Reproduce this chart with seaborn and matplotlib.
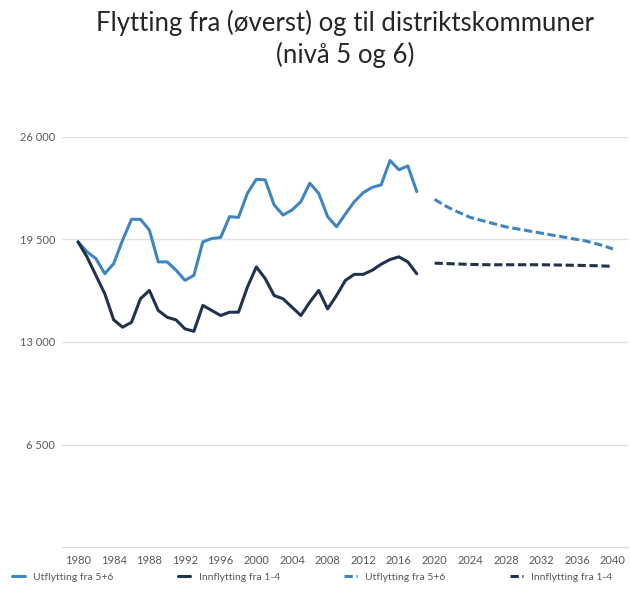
import matplotlib
matplotlib.use("Agg")
import matplotlib.pyplot as plt
import seaborn as sns
from matplotlib.ticker import FuncFormatter

# historical data, 1980-2018
years = list(range(1980, 2019))
utflytting = [19350, 18720, 18290, 17330, 17970, 19460, 20780, 20780, 20100, 18080,
              18080, 17550, 16910, 17230, 19350, 19560, 19630, 20950, 20900, 22430,
              23320, 23280, 21690, 21050, 21370, 21900, 23070, 22430, 20950, 20310,
              21120, 21900, 22470, 22810, 22960, 24510, 23920, 24170, 22540]
innflytting = [19350, 18400, 17230, 16060, 14400, 13940, 14250, 15740, 16270, 15000,
               14570, 14400, 13830, 13680, 15320, 15000, 14680, 14890, 14890, 16480,
               17760, 17020, 15950, 15740, 15210, 14680, 15530, 16270, 15100, 15950,
               16910, 17290, 17290, 17550, 17930, 18230, 18400, 18080, 17330]

# projections, 2020-2040
proj_years = list(range(2020, 2041))
utflytting_proj = [22050, 21700, 21400, 21150, 20900, 20750, 20600, 20450, 20300, 20200,
                   20100, 20000, 19900, 19800, 19700, 19600, 19500, 19400, 19250, 19100, 18900]
innflytting_proj = [18000, 17980, 17960, 17940, 17920, 17910, 17900, 17900, 17900, 17900,
                    17900, 17900, 17900, 17890, 17880, 17870, 17860, 17850, 17840, 17820, 17800]

light = "#3f86c0"
dark = "#1f3350"

sns.set_style("white")
plt.rcParams["font.family"] = ["Lato", "DejaVu Sans"]

fig = plt.figure(figsize=(6.3, 5.94), dpi=100)
ax = fig.add_axes([62 / 630, 47 / 594, 566 / 630, 410 / 594])

dash = (0, (2.7, 1.2))
sns.lineplot(x=years, y=utflytting, ax=ax, color=light, lw=2.2, label="Utflytting fra 5+6")
sns.lineplot(x=years, y=innflytting, ax=ax, color=dark, lw=2.2, label="Innflytting fra 1-4")
sns.lineplot(x=proj_years, y=utflytting_proj, ax=ax, color=light, lw=2.2,
             linestyle=dash, label="Utflytting fra 5+6")
sns.lineplot(x=proj_years, y=innflytting_proj, ax=ax, color=dark, lw=2.2,
             linestyle=dash, label="Innflytting fra 1-4")

ax.set_xlim(1978.2, 2041.7)
ax.set_ylim(0, 26000)
ax.set_yticks([6500, 13000, 19500, 26000])
ax.yaxis.set_major_formatter(FuncFormatter(lambda v, p: f"{v:,.0f}".replace(",", " ")))
ax.set_xticks(list(range(1980, 2041, 4)))
ax.grid(axis="y", color="#e0e0e0", lw=1)
ax.tick_params(axis="both", length=0, labelsize=8, labelcolor="#595959")
ax.tick_params(axis="y", pad=5)
ax.tick_params(axis="x", pad=6)
for s in ["top", "right", "left"]:
    ax.spines[s].set_visible(False)
ax.spines["bottom"].set_color("#d9d9d9")

leg = ax.legend(loc="center", bbox_to_anchor=(0.442, -0.073), ncol=4, frameon=False,
                fontsize=7.5, handlelength=1.2, columnspacing=6.2, borderaxespad=0)
for t in leg.get_texts():
    t.set_color("#595959")

fig.text(0.548, 0.962, "Flytting fra (øverst) og til distriktskommuner", ha="center",
         va="center", fontsize=18.5, color="#262626")
fig.text(0.548, 0.907, "(nivå 5 og 6)", ha="center", va="center", fontsize=18.5, color="#262626")

fig.savefig("out.png", dpi=100, facecolor="white")
